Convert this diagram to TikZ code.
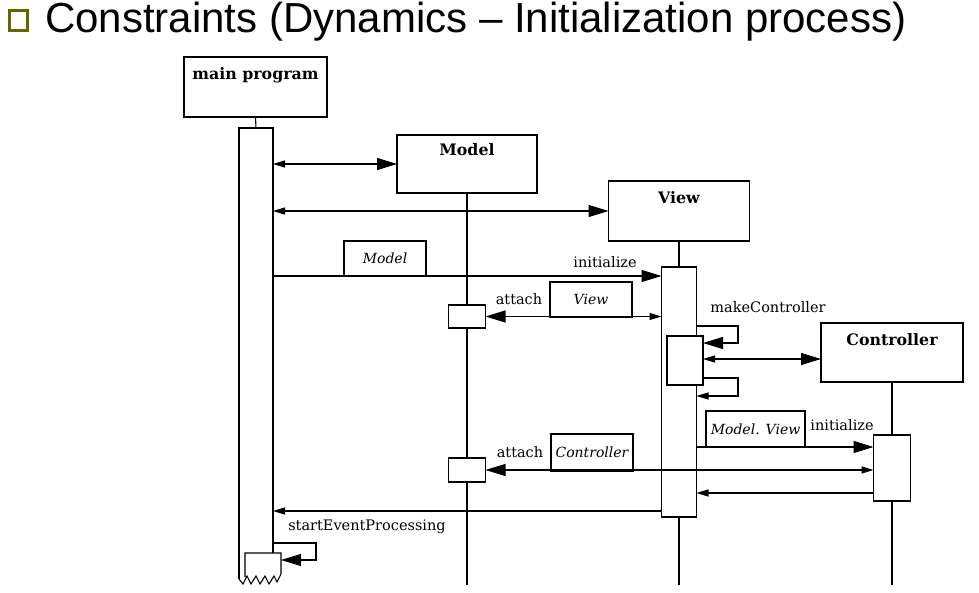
\documentclass[tikz,border=0pt]{standalone}
\usepackage{fontspec}
\setmainfont{DejaVu Serif}
\newfontfamily\titlefont{Liberation Sans}
\usetikzlibrary{arrows.meta}
\definecolor{bulletolive}{RGB}{102,102,0}
\tikzset{
  bigtip/.tip={Triangle[length=20pt,width=12pt]},
  smalltip/.tip={Triangle[length=12pt,width=7pt]},
}
\begin{document}
\begin{tikzpicture}[x=1pt,y=-1pt,
  every node/.style={inner sep=0pt, outer sep=0pt},
  ln/.style={line width=1.1pt},
  box/.style={draw, line width=1.1pt, fill=white},
  cls/.style={font=\fontsize{15.8}{18}\selectfont\bfseries},
  lbl/.style={font=\fontsize{14.5}{17}\selectfont},
  prm/.style={box, font=\fontsize{14}{17}\selectfont\itshape},
]
\useasboundingbox[fill=white] (0,0) rectangle (979,593);

% title
\draw[bulletolive, line width=3.5pt] (9.5,10.5) rectangle (27.5,30.5);
\node[anchor=base west, font=\titlefont\fontsize{42}{48}\selectfont] (title) at (45,33) {Constraints (Dynamics – Initialization process)};

\coordinate (bot) at (0,585);

% class boxes
\node[box, minimum width=143pt, minimum height=60pt] (mp) at (255.5,87) {};
\node[cls] (mpt) at (255.5,75) {main program};
\node[box, minimum width=140pt, minimum height=58pt] (mod) at (467,164) {};
\node[cls] (modt) at (467,150) {Model};
\node[box, minimum width=141pt, minimum height=60pt] (view) at (679,211) {};
\node[cls] (viewt) at (679,198) {View};
\node[box, minimum width=142pt, minimum height=59pt] (ctrl) at (892,352.5) {};
\node[cls] (ctrlt) at (892,340) {Controller};

% main program activation (drawn as open outline)
\node[minimum width=34pt, minimum height=425pt] (mpact) at (256,340.5) {};
\node[minimum width=36pt, minimum height=24pt] (mpnest) at (263,565) {};
\draw[ln] (mp.south) -- (mpact.north);
\draw[ln] (mpact.south east) -- (mpact.north east) -- (mpact.north west) -- ++(0,451);
\draw[ln] (245,577) -- (mpnest.north west) -- (mpnest.north east) -- (281,574)
  -- (277,582) -- (274,576) -- (269,584) -- (265,576) -- (260,584) -- (256,576)
  -- (251,584) -- (247,576) -- (243,584) -- (239,579);

% lifelines
\draw[ln] (mod.south) -- (mod.south |- bot);
\draw[ln] (view.south) -- (view.south |- bot);
\draw[ln] (ctrl.south) -- (ctrl.south |- bot);

% activations
\node[box, minimum width=35pt, minimum height=250pt] (vact) at (679,392) {};
\node[box, minimum width=36pt, minimum height=49pt] (vnest) at (685,360.5) {};
\node[box, minimum width=37pt, minimum height=66pt] (cact) at (892,468) {};
\node[box, minimum width=37pt, minimum height=23pt] (mact1) at (467,316.5) {};
\node[box, minimum width=37pt, minimum height=24pt] (mact2) at (467,470) {};

% parameter boxes
\node[prm, minimum width=82pt, minimum height=35pt] (pmodel) at (385,258.5) {Model};
\node[prm, minimum width=82pt, minimum height=35pt] (pview) at (591,299.5) {View};
\node[prm, minimum width=99pt, minimum height=36pt] (pmv) at (755.5,429) {Model. View};
\node[prm, minimum width=82pt, minimum height=37pt] (pctrl) at (592,452.5) {Controller};

% labels
\node[lbl] (init1) at (605,262) {initialize};
\node[lbl] (att1) at (519,299) {attach};
\node[lbl] (mkc) at (768,307) {makeController};
\node[lbl] (init2) at (842,425) {initialize};
\node[lbl] (att2) at (520,452) {attach};
\node[lbl] (sep) at (367,527) {startEventProcessing};

% helper coordinates
\coordinate (l1a) at (738,326);
\coordinate (l1b) at (738,343);
\coordinate (cy) at (0,359);
\coordinate (l2a) at (738,378);
\coordinate (l2b) at (738,396);
\coordinate (r1) at (0,493);
\coordinate (r2) at (0,511);
\coordinate (s1) at (316,543);
\coordinate (s2) at (316,560);

% messages
\draw[ln, {smalltip}-{bigtip}] (mpact.east |- mod.west) -- (mod.west);
\draw[ln, {smalltip}-{bigtip}] (mpact.east |- view.west) -- (view.west);
\draw[ln, -{bigtip}] (mpact.east |- pmodel.south) -- (vact.west |- pmodel.south);
\draw[ln, {bigtip}-{smalltip}] (mact1.east) -- (vact.west |- mact1.east);
\draw[ln, -{bigtip}] (vact.east |- l1a) -- (l1a) -- (l1b) -- (vnest.east |- l1b);
\draw[ln, {smalltip}-{bigtip}] (vnest.east |- cy) -- (ctrl.west |- cy);
\draw[ln, -{smalltip}] (vnest.east |- l2a) -- (l2a) -- (l2b) -- (vact.east |- l2b);
\draw[ln, -{bigtip}] (vact.east |- pmv.south) -- (cact.west |- pmv.south);
\draw[ln, {bigtip}-{smalltip}] (mact2.east) -- (cact.west |- mact2.east);
\draw[ln, -{smalltip}] (cact.west |- r1) -- (vact.east |- r1);
\draw[ln, -{smalltip}] (vact.west |- r2) -- (mpact.east |- r2);
\draw[ln, -{bigtip}] (mpact.east |- s1) -- (s1) -- (s2) -- (mpnest.east |- s2);
\end{tikzpicture}
\end{document}
